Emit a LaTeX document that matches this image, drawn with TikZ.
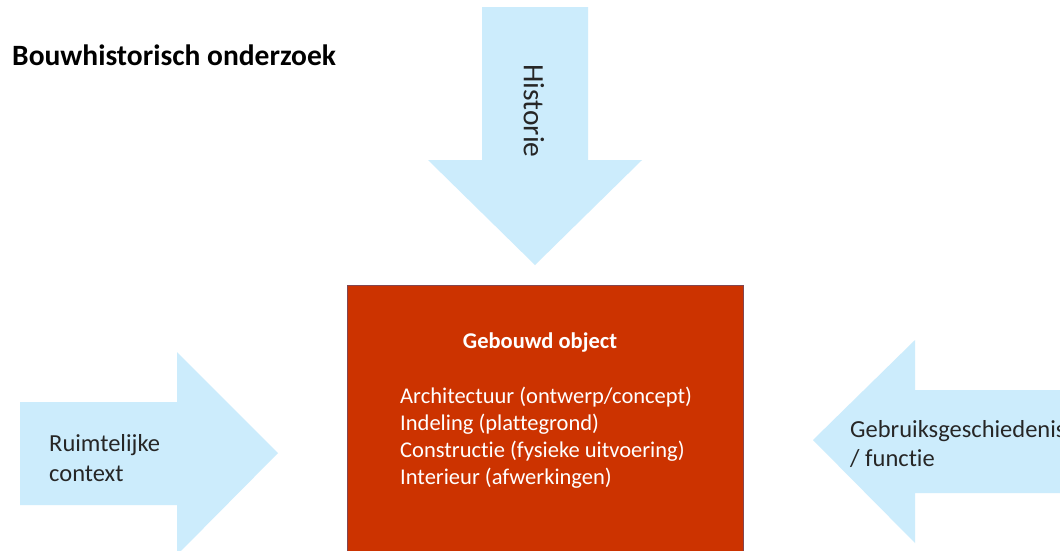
\documentclass[tikz,border=0pt]{standalone}
\usepackage{fontspec}
\setmainfont{Carlito}[Ligatures={NoCommon}]
\definecolor{arrowblue}{RGB}{204,236,252}
\definecolor{boxred}{RGB}{204,51,0}
\definecolor{boxedge}{RGB}{130,70,80}
\begin{document}
\begin{tikzpicture}[x=1pt,y=-1pt,
  arrowshape/.style={fill=arrowblue,draw=none},
  darktext/.style={text=black!85,inner sep=0pt},
  whitetext/.style={text=white,inner sep=0pt},
  sidefont/.style={font=\fontsize{24.5}{29}\selectfont},
  listline/.style={whitetext,anchor=base west,font=\fontsize{22.5}{27}\selectfont}]
\useasboundingbox (0,0) rectangle (1060,550);
\fill[white] (0,0) rectangle (1060,550);
\clip (0,0) rectangle (1060,550);
% title
\node[inner sep=0pt,anchor=base west,font=\fontsize{29.5}{34}\selectfont\bfseries] (title) at (12,65) {Bouwhistorisch onderzoek};
% top arrow
\fill[arrowshape] (482,7) -- (588,7) -- (588,160) -- (642,160) -- (535,265) -- (428,160) -- (482,160) -- cycle;
\node[darktext,rotate=-90,font=\fontsize{29.5}{34}\selectfont] (hist) at (534,111) {Historie};
% left arrow
\fill[arrowshape] (20,402) -- (177,402) -- (177,352) -- (278,453) -- (177,555) -- (177,505) -- (20,505) -- cycle;
\node[darktext,anchor=base west,sidefont] (ruimte1) at (49,451) {Ruimtelijke};
\node[darktext,anchor=base west,sidefont] (ruimte2) at (49,481) {context};
% right arrow
\fill[arrowshape] (1070,390) -- (915,390) -- (915,340) -- (813,440) -- (915,543) -- (915,493) -- (1070,493) -- cycle;
\node[darktext,anchor=base west,sidefont] (gebruik1) at (850,437) {Gebruiksgeschiedenis};
\node[darktext,anchor=base west,sidefont] (gebruik2) at (850,466) {/ functie};
% box
\filldraw[fill=boxred,draw=boxedge,line width=0.8pt] (347,285) rectangle (743,570);
\node[whitetext,anchor=base,font=\fontsize{22.5}{27}\selectfont\bfseries] (objtitle) at (540,348) {Gebouwd object};
\node[listline] (line1) at (400,403) {Architectuur (ontwerp/concept)};
\node[listline] (line2) at (400,430) {Indeling (plattegrond)};
\node[listline] (line3) at (400,457) {Constructie (fysieke uitvoering)};
\node[listline] (line4) at (400,484) {Interieur (afwerkingen)};
\end{tikzpicture}
\end{document}
